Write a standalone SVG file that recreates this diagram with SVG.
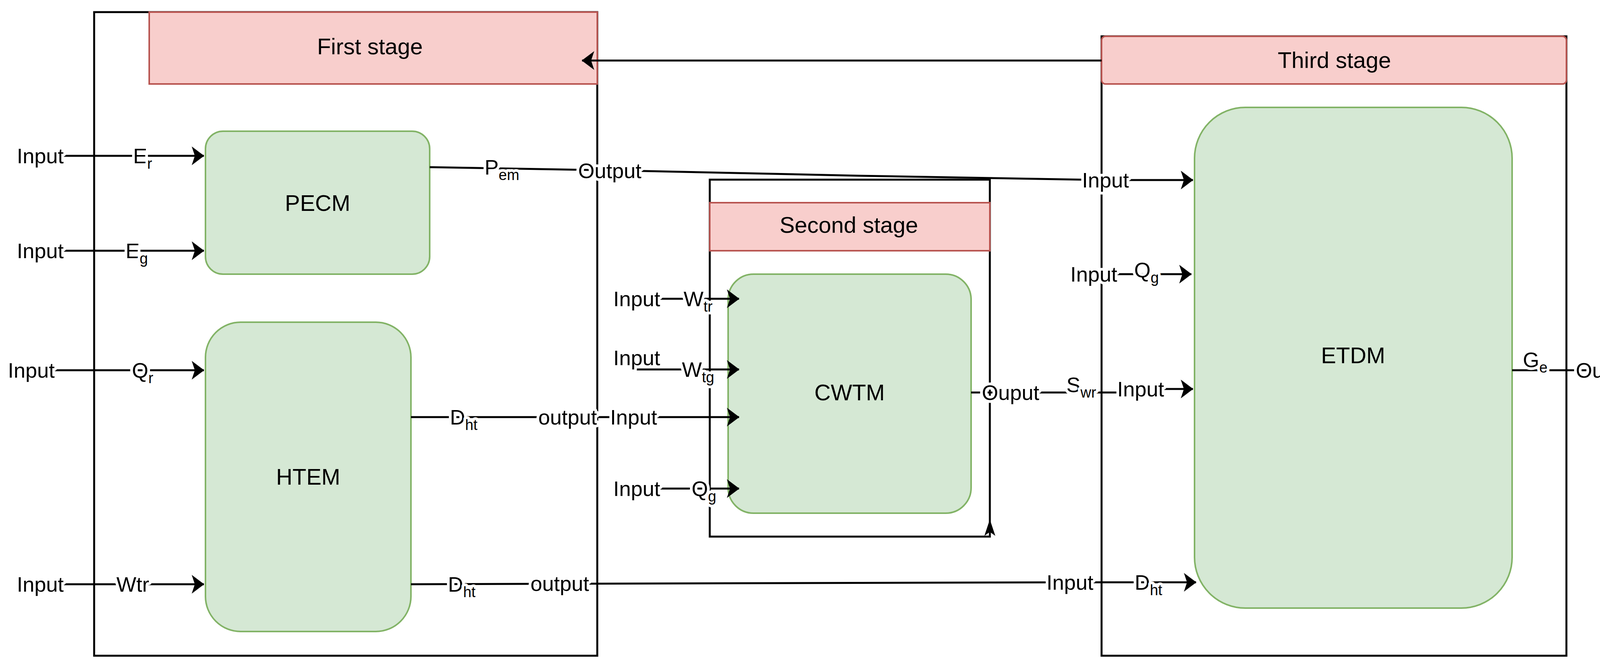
<svg xmlns="http://www.w3.org/2000/svg" width="4270" height="1713" viewBox="0 0 4270 1713">
<style>
text{font-family:"Liberation Sans",Arial,sans-serif;font-size:54px;fill:#000;}
.lb{paint-order:stroke;stroke:#fff;stroke-width:14px;stroke-linejoin:round;}
.t{font-size:58px;text-anchor:middle;}
.c{text-anchor:middle;}
.sub{font-size:38px;}
.box{fill:none;stroke:#000;stroke-width:5;}
.hdr{fill:#f8cecc;stroke:#b85450;stroke-width:4;}
.mod{fill:#d5e8d4;stroke:#82b366;stroke-width:4;}
.ln{stroke:#000;stroke-width:5;fill:none;}
.ar{marker-end:url(#a);}
</style>
<defs>
<marker id="a" viewBox="0 0 10 10" refX="9" refY="5" markerWidth="8" markerHeight="8" markerUnits="userSpaceOnUse" orient="auto" overflow="visible">
<path d="M-30,-25 L10,5 L-30,35 L-20,5 z" transform="translate(0,0)"/>
</marker>
</defs>
<rect width="4270" height="1713" fill="#fff"/>
<g id="stage1">
<rect class="box" x="241" y="31" width="1288" height="1648"/>
<rect class="hdr" x="382" y="31" width="1147" height="184"/>
<text class="t" x="947" y="139">First stage</text>
</g>
<g id="stage2">
<rect class="box" x="1817" y="460" width="717" height="914"/>
<rect class="hdr" x="1817" y="519" width="717" height="123"/>
<text class="t" x="2173" y="596">Second stage</text>
</g>
<g id="stage3">
<rect class="box" x="2820" y="93" width="1190" height="1586"/>
<rect class="hdr" x="2820" y="93" width="1190" height="122" rx="10"/>
<text class="t" x="3416" y="174">Third stage</text>
</g>
<g id="pecm"><rect class="mod" x="526" y="336" width="574" height="366" rx="45"/><text class="t" x="813" y="540">PECM</text></g>
<g id="htem"><rect class="mod" x="526" y="825" width="526" height="792" rx="90"/><text class="t" x="789" y="1241">HTEM</text></g>
<g id="cwtm"><rect class="mod" x="1864" y="702" width="622" height="612" rx="65"/><text class="t" x="2175" y="1025">CWTM</text></g>
<g id="etdm"><rect class="mod" x="3058" y="275" width="813" height="1282" rx="130"/><text class="t" x="3464" y="930">ETDM</text></g>
<g id="connectors">
<path class="ln ar" d="M2820,155 H1490"/>
<path class="ln ar" d="M160,399 H522"/>
<path class="ln ar" d="M160,642 H522"/>
<path class="ln ar" d="M137,948 H522"/>
<path class="ln ar" d="M160,1496 H522"/>
<path class="ln" d="M1100,428 L1561,436 L2200,450 L2830,461"/>
<path class="ln ar" d="M2830,461 H3054"/>
<path class="ln" d="M1052,1068 H1622"/>
<path class="ln ar" d="M1622,1068 H1892"/>
<path class="ln" d="M1052,1496 L2739,1491"/>
<path class="ln ar" d="M2739,1491 H3062"/>
<path class="ln ar" d="M1630,765 H1892"/>
<path class="ln ar" d="M1630,946 H1892"/>
<path class="ln ar" d="M1630,1251 H1892"/>
<path class="ln" d="M2486,1005 H2920"/>
<path class="ln ar" d="M2920,996 H3054"/>
<path class="ln ar" d="M2800,702 H3050"/>
<path class="ln ar" d="M3871,948 H4245"/>
<path d="M2534,1330 L2520,1372 L2534,1362 L2548,1372 z"/>
</g>
<g id="labels">
<text class="lb" x="43" y="418">Input</text>
<text class="lb" x="43" y="661">Input</text>
<text class="lb" x="20" y="967">Input</text>
<text class="lb" x="43" y="1515">Input</text>
<text class="lb c" x="365" y="418">E<tspan class="sub" dy="14">r</tspan></text>
<text class="lb c" x="350" y="661">E<tspan class="sub" dy="14">g</tspan></text>
<text class="lb c" x="365" y="967">Q<tspan class="sub" dy="14">r</tspan></text>
<text class="lb c" x="340" y="1515">Wtr</text>
<text class="lb c" x="1285" y="447">P<tspan class="sub" dy="14">em</tspan></text>
<text class="lb c" x="1561" y="456">Output</text>
<text class="lb c" x="1187" y="1087">D<tspan class="sub" dy="14">ht</tspan></text>
<text class="lb c" x="1453" y="1087">output</text>
<text class="lb c" x="1622" y="1087">Input</text>
<text class="lb c" x="1182" y="1515">D<tspan class="sub" dy="14">ht</tspan></text>
<text class="lb c" x="1433" y="1513">output</text>
<text class="lb c" x="2739" y="1510">Input</text>
<text class="lb c" x="2940" y="1510">D<tspan class="sub" dy="14">ht</tspan></text>
<text class="lb c" x="1630" y="784">Input</text>
<text class="lb c" x="1630" y="935">Input</text>
<text class="lb c" x="1630" y="1270">Input</text>
<text class="lb c" x="1787" y="784">W<tspan class="sub" dy="14">tr</tspan></text>
<text class="lb c" x="1787" y="965">W<tspan class="sub" dy="14">tg</tspan></text>
<text class="lb c" x="1802" y="1270">Q<tspan class="sub" dy="14">g</tspan></text>
<text class="lb c" x="2587" y="1024">Ouput</text>
<text class="lb c" x="2768" y="1004">S<tspan class="sub" dy="14">wr</tspan></text>
<text class="lb c" x="2920" y="1015">Input</text>
<text class="lb c" x="2830" y="480">Input</text>
<text class="lb c" x="2800" y="721">Input</text>
<text class="lb c" x="2935" y="710">Q<tspan class="sub" dy="14">g</tspan></text>
<text class="lb c" x="3930" y="940">G<tspan class="sub" dy="14">e</tspan></text>
<text class="lb c" x="4115" y="967">Output</text>
</g>
</svg>
